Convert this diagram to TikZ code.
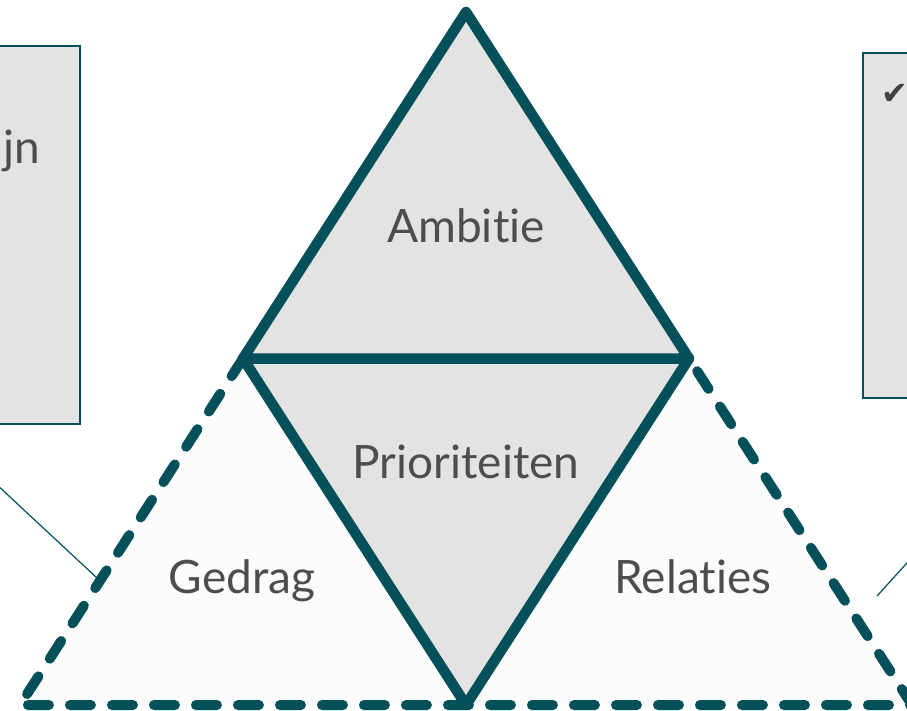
\documentclass[tikz,border=0pt]{standalone}
\usepackage{fontspec}
\usetikzlibrary{calc}
\setmainfont{Lato}[Ligatures=CommonOff]
\newfontfamily\symfont{DejaVu Sans}
\definecolor{tealdk}{HTML}{03505A}
\definecolor{grayfill}{HTML}{E3E3E2}
\definecolor{whitefill}{HTML}{FCFCFC}
\definecolor{txtgray}{HTML}{4D4D4D}
\definecolor{chkgray}{HTML}{404040}
\tikzset{
  solidedge/.style={draw=tealdk, line width=10.5pt, line join=round, line cap=round},
  dashededge/.style={draw=tealdk, line width=10pt, line cap=round, dash pattern=on 21pt off 21pt},
  sidebox/.style={draw=tealdk, line width=1.2pt, fill=grayfill},
  connector/.style={draw=tealdk, line width=1.2pt},
  label/.style={text=txtgray, font=\fontsize{46}{54}\selectfont, anchor=base, inner sep=0pt},
}
\begin{document}
\begin{tikzpicture}[x=1pt,y=-1pt]
\useasboundingbox (0,0) rectangle (907,711);
\clip (0,0) rectangle (907,711);
\fill[white] (0,0) rectangle (907,711);
% vertices
\coordinate (T) at (466,12);
\coordinate (BL) at (20,705);
\coordinate (BR) at (912,705);
\coordinate (L) at ($(T)!0.5!(BL)$);
\coordinate (R) at ($(T)!0.5!(BR)$);
\coordinate (B) at ($(BL)!0.5!(BR)$);
% side boxes
\draw[sidebox] (-10,46) rectangle (80,424);
\draw[sidebox] (863,53) rectangle (930,398);
\node[label, anchor=base west] (lefttxt) at (3,164) {jn};
\node[text=chkgray, font=\symfont\fontsize{32}{38}\selectfont, inner sep=0pt] (chk) at (895,94) {✔};
% connectors
\coordinate (lc1) at (-5,483);
\coordinate (lc2) at (97,578);
\coordinate (rc1) at (877,596);
\coordinate (rc2) at (915,554);
\draw[connector] (lc1) -- (lc2);
\draw[connector] (rc1) -- (rc2);
% fills
\fill[whitefill] (BL) -- (L) -- (B) -- cycle;
\fill[whitefill] (B) -- (R) -- (BR) -- cycle;
\fill[grayfill] (L) -- (R) -- (B) -- cycle;
\fill[grayfill] (T) -- (L) -- (R) -- cycle;
% dashed outline
\draw[dashededge] (L) -- (BL) -- (BR) -- (R);
% solid outlines
\draw[solidedge] (T) -- (L) -- (R) -- cycle;
\draw[solidedge] (L) -- (B) -- (R);
% labels
\node[label] (amb) at (466,243) {Ambitie};
\node[label] (pri) at (466,478) {Prioriteiten};
\node[label] (ged) at (242,593) {Gedrag};
\node[label] (rel) at (693,593) {Relaties};
\end{tikzpicture}
\end{document}
